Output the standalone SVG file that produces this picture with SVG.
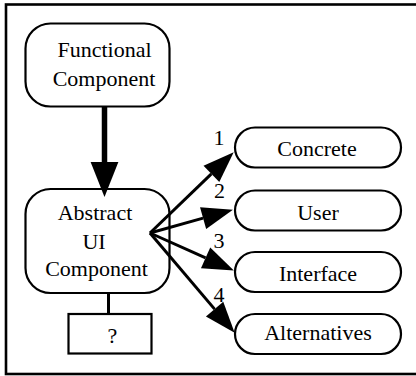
<svg xmlns="http://www.w3.org/2000/svg" width="416" height="376" viewBox="0 0 416 376">
<style>
.node{fill:#fff;stroke:#000;stroke-width:2.2}
.t{font-family:'Liberation Serif',Tinos,'Times New Roman',Times,'Noto Serif','DejaVu Serif',FreeSerif,serif;font-size:22px;fill:#000;text-anchor:middle}
.e{stroke:#000;stroke-width:3;fill:none}
</style>
<defs>
<marker id="ah" markerUnits="userSpaceOnUse" markerWidth="32" markerHeight="26" refX="0" refY="0" viewBox="0 -12 31 24" orient="auto" overflow="visible">
<path d="M0,-11 L30,0 L0,11 Z" fill="#000"/>
</marker>
<marker id="ahBig" markerUnits="userSpaceOnUse" markerWidth="36" markerHeight="30" refX="0" refY="0" viewBox="0 -14 35 28" orient="auto" overflow="visible">
<path d="M0,-13.5 L34,0 L0,13.5 Z" fill="#000"/>
</marker>
</defs>
<rect x="6" y="4.5" width="412" height="369.5" fill="#fff" stroke="#000" stroke-width="2.6"/>
<g id="functional">
<rect class="node" x="25.5" y="23.5" width="144" height="83" rx="25"/>
<text class="t" x="104.5" y="57">Functional</text>
<text class="t" x="104" y="86">Component</text>
</g>
<g id="abstract">
<rect class="node" x="25.5" y="189" width="144" height="104" rx="25"/>
<text class="t" x="95" y="220">Abstract</text>
<text class="t" x="94" y="249">UI</text>
<text class="t" x="96.5" y="276">Component</text>
</g>
<g id="unknown">
<rect class="node" x="68.5" y="314" width="83" height="39.5"/>
<text class="t" x="112.5" y="342.5">?</text>
</g>
<g id="concrete">
<rect class="node" x="235" y="127.5" width="166" height="40" rx="20"/>
<text class="t" x="317" y="156">Concrete</text>
</g>
<g id="user">
<rect class="node" x="235" y="190.5" width="166" height="40" rx="20"/>
<text class="t" x="318" y="220">User</text>
</g>
<g id="interface">
<rect class="node" x="235" y="252" width="166" height="40" rx="20"/>
<text class="t" x="318" y="281">Interface</text>
</g>
<g id="alternatives">
<rect class="node" x="235" y="314" width="166" height="40" rx="20"/>
<text class="t" x="318" y="340">Alternatives</text>
</g>
<g id="connectors">
<line x1="104.5" y1="107" x2="104.5" y2="162" stroke="#000" stroke-width="5.5" marker-end="url(#ahBig)"/>
<line class="e" x1="108.5" y1="294" x2="108.5" y2="313"/>
<line class="e" x1="150" y1="233" x2="211.4" y2="173.8" marker-end="url(#ah)"/>
<line class="e" x1="150" y1="233" x2="203.1" y2="218.1" marker-end="url(#ah)"/>
<line class="e" x1="150" y1="233" x2="205.6" y2="257.8" marker-end="url(#ah)"/>
<line class="e" x1="150" y1="233" x2="214.6" y2="309.1" marker-end="url(#ah)"/>
<text class="t" x="219" y="145">1</text>
<text class="t" x="219.5" y="198">2</text>
<text class="t" x="219" y="248">3</text>
<text class="t" x="219" y="302">4</text>
</g>
</svg>
